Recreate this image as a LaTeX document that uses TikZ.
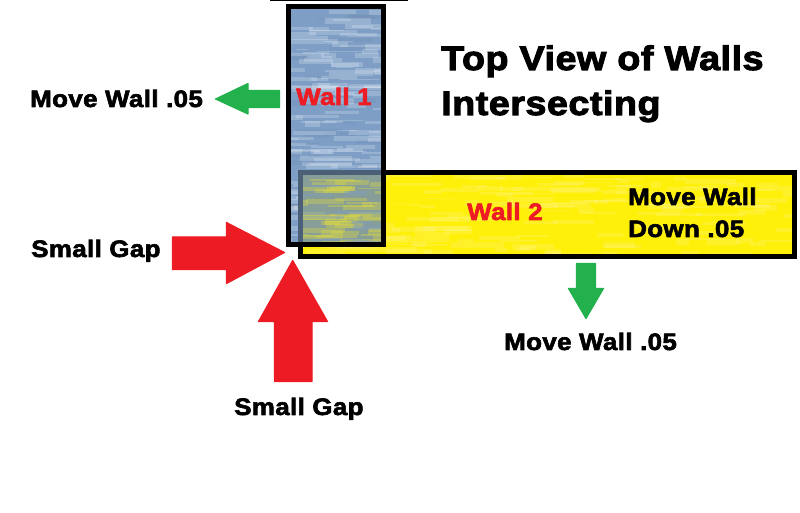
\documentclass[tikz,border=0pt]{standalone}
\usepackage{fontspec}
\usepackage{xcolor}
\newfontfamily\heavyfont[FakeBold=2.6,FakeStretch=1.09,LetterSpace=1.5]{Liberation Sans Bold}
\newfontfamily\titlefont[FakeBold=3,FakeStretch=1.11,LetterSpace=1.5]{Liberation Sans Bold}
\definecolor{wallblue}{RGB}{126,158,198}
\definecolor{wallyellow}{RGB}{255,240,10}
\definecolor{gapred}{RGB}{237,28,36}
\definecolor{movegreen}{RGB}{34,177,76}
\definecolor{mixgrey}{RGB}{135,158,152}
\tikzset{
  lbl/.style={anchor=base west,inner sep=0pt,font=\heavyfont\fontsize{20.3}{22}\selectfont},
  walllbl/.style={lbl,text=gapred},
  ttl/.style={anchor=base west,inner sep=0pt,font=\titlefont\fontsize{29}{32}\selectfont},
  wallframe/.style={draw=black,line width=5*0.8536pt,line join=miter},
  gaparrow/.style={fill=gapred,draw=gapred,line width=1pt,line join=round},
  movearrow/.style={fill=movegreen,draw=movegreen,line width=1pt,line join=round}
}
% streaks: \streaks{count}{x0}{x1}{y0}{y1}{colour}{opacity}
\newcommand{\streaks}[7]{%
  \foreach \i in {1,...,#1}{
    \pgfmathsetmacro{\sx}{#2+rnd*(#3-#2)}
    \pgfmathsetmacro{\sy}{#4+rnd*(#5-#4)}
    \pgfmathsetmacro{\sw}{10+rnd*45}
    \pgfmathsetmacro{\sh}{1+rnd*5}
    \fill[#6,opacity=#7] (\sx,\sy) rectangle ++(\sw,\sh);
  }}
\begin{document}
\begin{tikzpicture}[x=0.03cm,y=-0.03cm]
\useasboundingbox (0,0) rectangle (800,513);
\pgfmathsetseed{7}

% Line at the top
\fill[black] (270,0) rectangle (408,1.2);

% Wall 2
\begin{scope}
\clip (300.5,172.5) rectangle (794.5,256.5);
\fill[wallyellow] (300,172) rectangle (795,257);
\streaks{170}{290}{790}{172}{256}{white}{0.13}
\end{scope}
\draw[wallframe] (300.5,172.5) rectangle (794.5,256.5);

% Wall 1
\begin{scope}
\clip (288.5,6.5) rectangle (383.5,244.5);
\fill[wallblue] (288,6) rectangle (384,245);
\streaks{35}{270}{375}{9}{242}{black!20!wallblue}{0.15}
\streaks{150}{270}{375}{9}{242}{white}{0.2}
\end{scope}

% Overlap of the walls
\begin{scope}
\clip (298,170) rectangle (381,242);
\fill[black!40!wallblue] (298,170) rectangle (381,175);
\fill[black!40!wallblue] (298,170) rectangle (303,242);
\clip (303,175) rectangle (381,242);
\fill[mixgrey] (303,175) rectangle (381,242);
\streaks{50}{290}{375}{175}{242}{yellow!75!mixgrey}{0.33}
\streaks{12}{290}{375}{175}{242}{wallblue}{0.4}
\end{scope}
\draw[wallframe] (288.5,6.5) rectangle (383.5,244.5);

% Red arrows
\filldraw[gaparrow] (172.5,237) -- (226.5,237) -- (226.5,222.5) -- (284.5,252.5)
  -- (226.5,283.5) -- (226.5,269.5) -- (172.5,269.5) -- cycle;
\filldraw[gaparrow] (292.7,260.5) -- (327.5,321.5) -- (312,321.5) -- (312,381.5)
  -- (274.5,381.5) -- (274.5,321.5) -- (258.5,321.5) -- cycle;

% Green arrows
\filldraw[movearrow] (215.5,99) -- (248,83.5) -- (248,90.5) -- (279.5,90.5)
  -- (279.5,107.5) -- (248,107.5) -- (248,114) -- cycle;
\filldraw[movearrow] (576.5,263.5) -- (595.5,263.5) -- (595.5,288.5) -- (603.5,288.5)
  -- (586,318.5) -- (568.5,288.5) -- (576.5,288.5) -- cycle;

% Labels
\node[ttl] (title1) at (441,70) {Top View of Walls};
\node[ttl] (title2) at (441,115) {Intersecting};
\node[lbl] (moveleft) at (30,107) {Move Wall .05};
\node[walllbl] (wall1) at (296,105) {Wall 1};
\node[walllbl] (wall2) at (467,220) {Wall 2};
\node[lbl] (movedown1) at (628,205) {Move Wall};
\node[lbl] (movedown2) at (628,237) {Down .05};
\node[lbl] (gapleft) at (31,257) {Small Gap};
\node[lbl] (gapbelow) at (234,415) {Small Gap};
\node[lbl] (movebelow) at (504,350) {Move Wall .05};
\end{tikzpicture}
\end{document}
